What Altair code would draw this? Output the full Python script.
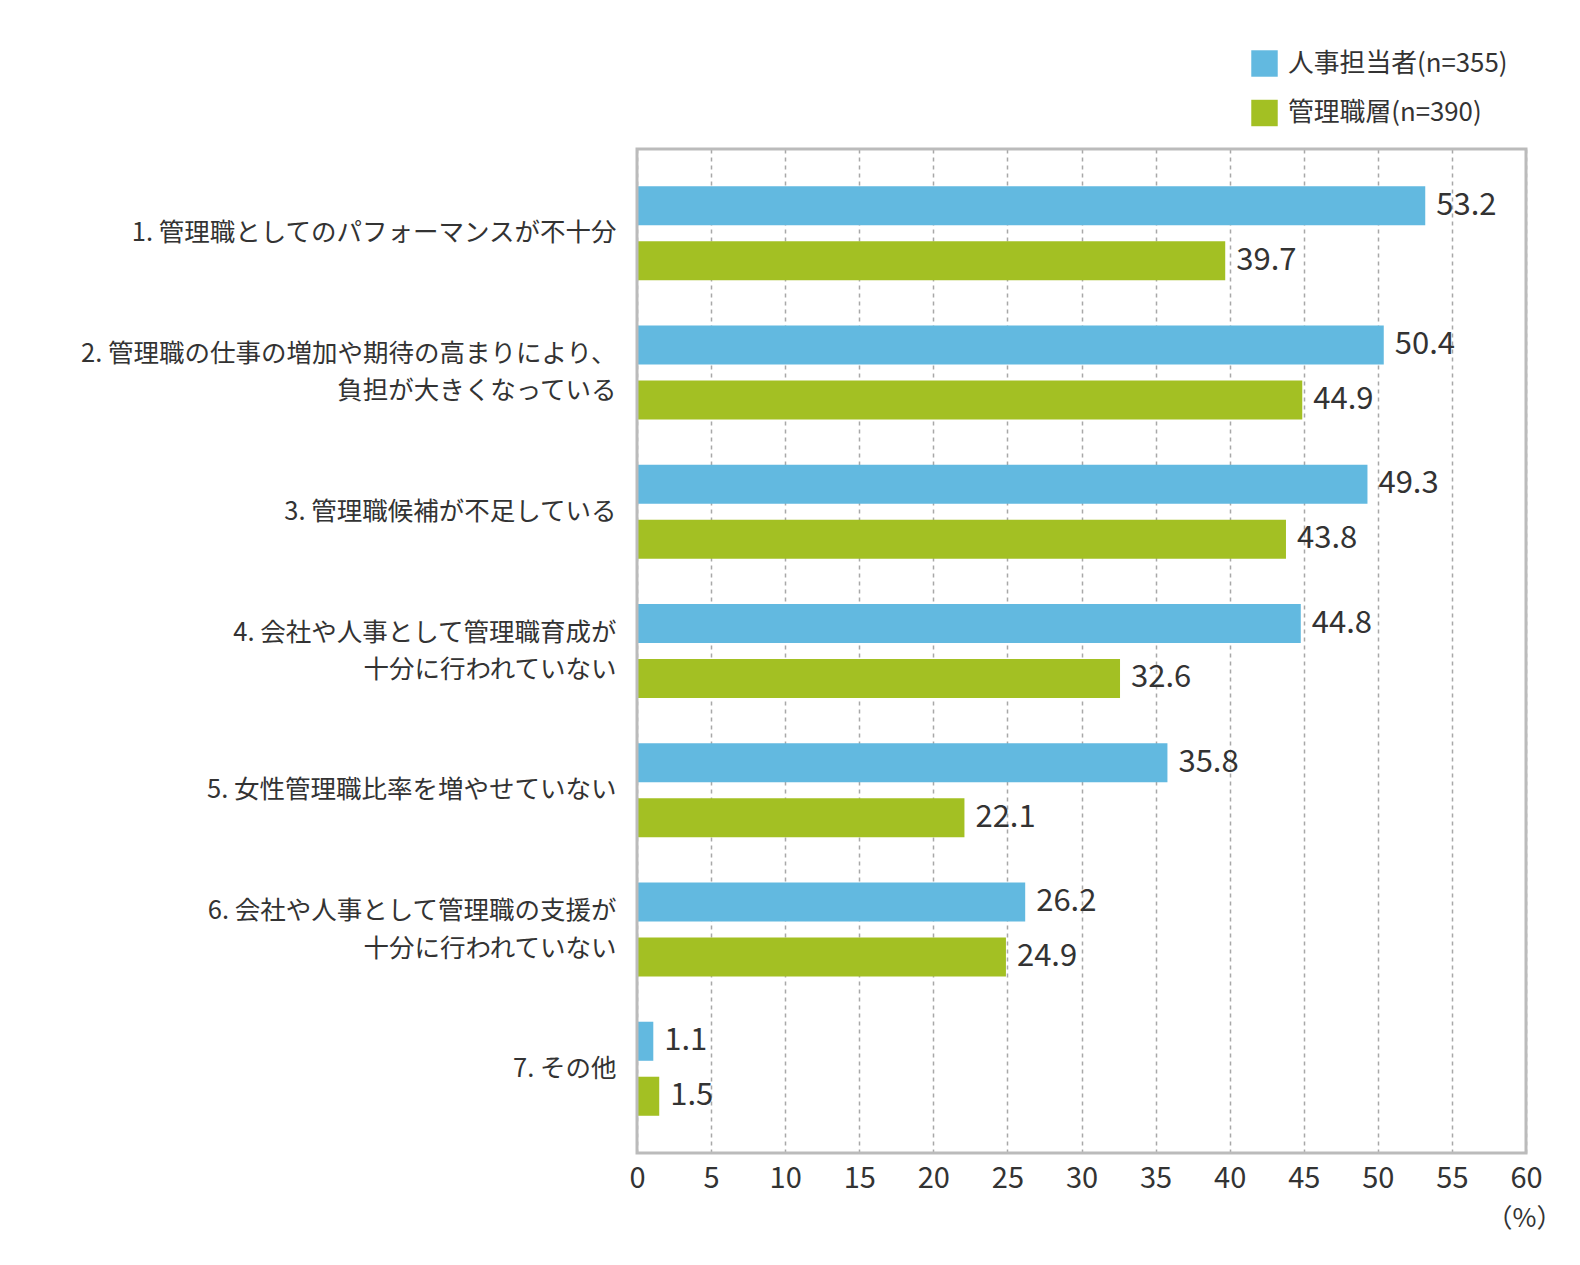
import altair as alt
import pandas as pd

categories = [
    "1. 管理職としてのパフォーマンスが不十分",
    "2. 管理職の仕事の増加や期待の高まりにより、\n負担が大きくなっている",
    "3. 管理職候補が不足している",
    "4. 会社や人事として管理職育成が\n十分に行われていない",
    "5. 女性管理職比率を増やせていない",
    "6. 会社や人事として管理職の支援が\n十分に行われていない",
    "7. その他",
]
series = ["人事担当者(n=355)", "管理職層(n=390)"]
hr_values = [53.2, 50.4, 49.3, 44.8, 35.8, 26.2, 1.1]
mgr_values = [39.7, 44.9, 43.8, 32.6, 22.1, 24.9, 1.5]
colors = ["#62B9E0", "#A3C023"]
x_ticks = list(range(0, 61, 5))

rows = []
for cat, a, b in zip(categories, hr_values, mgr_values):
    rows.append({"category": cat, "series": series[0], "value": a})
    rows.append({"category": cat, "series": series[1], "value": b})
df = pd.DataFrame(rows)

FONT = "Noto Sans CJK JP"
W, H = 889, 1004

y_enc = alt.Y(
    "category:N",
    sort=categories,
    title=None,
    scale=alt.Scale(paddingInner=0, paddingOuter=0.105),
    axis=alt.Axis(
        labelExpr="split(datum.label, '\\n')",
        labelFontSize=25.5,
        labelColor="#333333",
        labelLineHeight=37.5,
        labelPadding=21,
        labelLimit=0,
        labelOffset={
            "condition": {"test": "indexof(datum.value, '\\n') >= 0", "value": -18.5},
            "value": 0,
        },
        ticks=False,
        domain=False,
        grid=False,
        labelFont=FONT,
    ),
)
yoff_enc = alt.YOffset(
    "series:N",
    sort=series,
    scale=alt.Scale(paddingInner=0.29, paddingOuter=0.411),
)
x_enc = alt.X(
    "value:Q",
    title="（%）",
    scale=alt.Scale(domain=[0, 60], nice=False),
    axis=alt.Axis(
        values=x_ticks,
        ticks=False,
        domain=False,
        labelFlush=False,
        labelFontSize=29,
        labelColor="#333333",
        labelPadding=11,
        labelFont=FONT,
        grid=True,
        gridDash=[4, 4],
        gridColor="#A8A8A8",
        gridWidth=1.5,
        titleFont=FONT,
        titleFontSize=26,
        titleFontWeight="normal",
        titleColor="#333333",
        titleAlign="center",
        titleAnchor="end",
        titleX=887,
        titleY=65,
        titleBaseline="middle",
    ),
)

base = alt.Chart(df)

bars = base.mark_bar().encode(
    x=x_enc,
    y=y_enc,
    yOffset=yoff_enc,
    color=alt.Color(
        "series:N",
        sort=series,
        scale=alt.Scale(domain=series, range=colors),
        legend=alt.Legend(
            title=None,
            orient="none",
            legendX=614,
            legendY=-99,
            symbolType="square",
            symbolSize=700,
            symbolStrokeWidth=0,
            symbolOpacity=1,
            labelFontSize=25.8,
            labelColor="#333333",
            labelFont=FONT,
            labelLimit=0,
            rowPadding=22.5,
            labelOffset=10,
        ),
    ),
)

labels = base.mark_text(
    align="left", baseline="middle", dx=11, fontSize=31, color="#333333", font=FONT
).encode(
    x="value:Q",
    y=alt.Y("category:N", sort=categories),
    yOffset=alt.YOffset("series:N", sort=series),
    text=alt.Text("value:Q", format=".1f"),
)

# gray frame round the plot area
frame = (
    alt.Chart(pd.DataFrame({"f": [0]}))
    .mark_rect(fill=None, stroke="#BBBBBB", strokeWidth=3)
    .encode(x=alt.value(0), x2=alt.value(W), y=alt.value(0), y2=alt.value(H))
)

chart = (
    alt.layer(bars, labels, frame)
    .properties(
        width=W,
        height=H,
        autosize=alt.AutoSizeParams(type="none"),
        padding={"left": 629, "top": 141, "right": 40, "bottom": 85},
    )
    .configure_view(stroke=None)
    .configure(font=FONT)
)

chart.save("out.html", embed_options={"renderer": "svg", "actions": False})
